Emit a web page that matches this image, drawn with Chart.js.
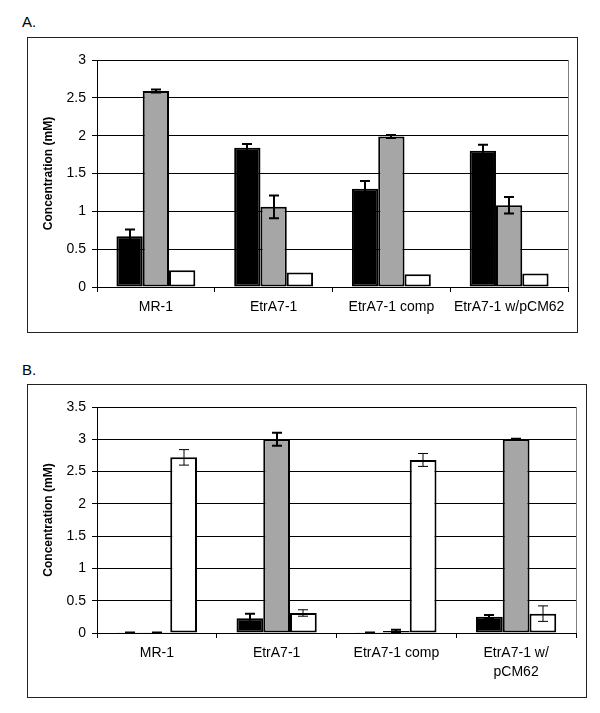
<!DOCTYPE html>
<html>
<head>
<meta charset="utf-8">
<script src="https://cdn.jsdelivr.net/npm/chart.js@4"></script>
<style>
  body { margin: 0; background: #fff; font-family: "Liberation Sans", Arial, sans-serif; }
  .page { position: relative; width: 600px; height: 713px; }
  .tag { position: absolute; left: 22px; font-size: 15px; color: #000; }
  .box { position: absolute; border: 1px solid #222; box-sizing: border-box; }
  .box canvas { position: absolute; left: 0; top: 0; }
</style>
</head>
<body>
<div class="page">
  <div class="tag" style="top:13px">A.</div>
  <div class="box" style="left:27px; top:37px; width:551px; height:296px">
    <canvas id="chartA" width="549" height="294"></canvas>
  </div>
  <div class="tag" style="top:361px">B.</div>
  <div class="box" style="left:27px; top:384px; width:560px; height:314px">
    <canvas id="chartB" width="558" height="312"></canvas>
  </div>
</div>
<script>
// panel A
const labelsA = ['MR-1', 'EtrA7-1', 'EtrA7-1 comp', 'EtrA7-1 w/pCM62'];
const blackA = [0.67, 1.84, 1.30, 1.80];
const blackErrA = [0.09, 0.05, 0.10, 0.08];
const grayA = [2.59, 1.06, 1.99, 1.08];
const grayErrA = [0.02, 0.15, 0.02, 0.11];
const whiteA = [0.22, 0.19, 0.17, 0.18];
const whiteErrA = [0, 0, 0, 0];

// panel B
const labelsB = ['MR-1', 'EtrA7-1', 'EtrA7-1 comp', ['EtrA7-1 w/', 'pCM62']];
const blackB = [0.003, 0.23, 0.003, 0.25];
const blackErrB = [0.005, 0.07, 0.005, 0.03];
const grayB = [0.003, 3.0, 0.03, 3.0];
const grayErrB = [0.005, 0.10, 0.02, 0.01];
const whiteB = [2.72, 0.31, 2.68, 0.30];
const whiteErrB = [0.12, 0.05, 0.10, 0.12];

const GRAY = '#a6a6a6';
const FONT = '"Liberation Sans", Arial, sans-serif';

const errorBars = {
  id: 'errorBars',
  afterDatasetsDraw(chart) {
    const ctx = chart.ctx;
    const y = chart.scales.y;
    chart.data.datasets.forEach((ds, i) => {
      const meta = chart.getDatasetMeta(i);
      meta.data.forEach((bar, j) => {
        const e = ds.errors[j];
        if (!e) return;
        const v = ds.data[j];
        const top = y.getPixelForValue(v + e);
        const bot = y.getPixelForValue(Math.max(0, v - e));
        const x = Math.round(bar.x);
        ctx.save();
        ctx.strokeStyle = '#000';
        ctx.lineWidth = ds.errWidth;
        ctx.beginPath();
        ctx.moveTo(x, top); ctx.lineTo(x, bot);
        ctx.moveTo(x - 5, top); ctx.lineTo(x + 5, top);
        ctx.moveTo(x - 5, bot); ctx.lineTo(x + 5, bot);
        ctx.stroke();
        ctx.restore();
      });
    });
  }
};

const plotBorder = {
  id: 'plotBorder',
  beforeDatasetsDraw(chart) {
    const a = chart.chartArea;
    const ctx = chart.ctx;
    ctx.save();
    ctx.strokeStyle = '#808080';
    ctx.lineWidth = 1;
    ctx.beginPath();
    ctx.moveTo(Math.round(a.right) + 0.5, a.top);
    ctx.lineTo(Math.round(a.right) + 0.5, a.bottom);
    ctx.stroke();
    ctx.restore();
  }
};

function makeChart(id, labels, black, blackErr, gray, grayErr, white, whiteErr, opts) {
  const bar = (data, errors, color, errWidth) => ({
    data, errors, errWidth,
    backgroundColor: color,
    borderColor: '#000',
    borderWidth: 2,
    borderSkipped: false,
    categoryPercentage: 0.67,
    barPercentage: 1.0
  });
  return new Chart(document.getElementById(id), {
    type: 'bar',
    data: {
      labels,
      datasets: [
        bar(black, blackErr, '#000', 2),
        bar(gray, grayErr, GRAY, 2),
        bar(white, whiteErr, '#fff', opts.whiteErrWidth)
      ]
    },
    options: {
      responsive: false,
      animation: false,
      layout: { padding: { left: 0, top: opts.top, right: opts.right, bottom: 0 } },
      plugins: { legend: { display: false }, tooltip: { enabled: false } },
      scales: {
        x: {
          grid: { offset: true, drawOnChartArea: false, color: '#000', tickLength: 5 },
          border: { color: '#000' },
          ticks: {
            color: '#000', maxRotation: 0, autoSkip: false, padding: 5,
            font: { family: FONT, size: 14, lineHeight: 1.4 }
          },
          afterFit: (s) => { s.height = opts.bottom; }
        },
        y: {
          min: 0, max: opts.max,
          grid: { color: '#000', tickLength: 5 },
          border: { color: '#000' },
          ticks: {
            stepSize: 0.5, color: '#000', padding: 6,
            font: { family: FONT, size: 14 },
            callback: (v) => String(v)
          },
          title: {
            display: true, text: 'Concentration (mM)', color: '#000',
            font: { family: FONT, size: 12, weight: 'bold' },
            padding: { top: 13, bottom: 0 }
          },
          afterFit: (s) => { s.width = 69; }
        }
      }
    },
    plugins: [plotBorder, errorBars]
  });
}

makeChart('chartA', labelsA, blackA, blackErrA, grayA, grayErrA, whiteA, whiteErrA,
  { max: 3, top: 22, right: 9, bottom: 45, whiteErrWidth: 2 });
makeChart('chartB', labelsB, blackB, blackErrB, grayB, grayErrB, whiteB, whiteErrB,
  { max: 3.5, top: 22, right: 10, bottom: 64, whiteErrWidth: 1 });
</script>
</body>
</html>
